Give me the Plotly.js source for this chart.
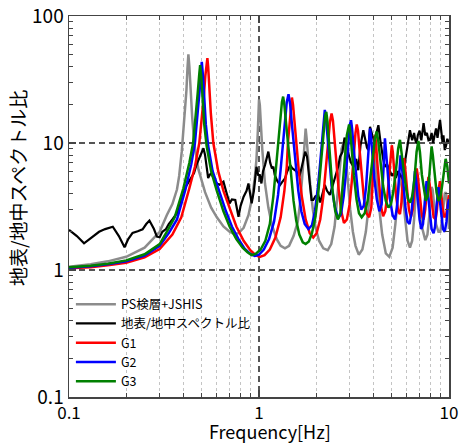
<!DOCTYPE html>
<html>
<head>
<meta charset="utf-8">
<script src="https://cdn.plot.ly/plotly-3.0.1.min.js"></script>
<style>html,body{margin:0;padding:0;background:#fff;}#chart{width:459px;height:446px;}</style>
</head>
<body>
<div id="chart"></div>
<script>
// ---- Data ----
const seriesNames = ["PS検層+JSHIS", "地表/地中スペクトル比", "G1", "G2", "G3"];
const xTitle = "Frequency[Hz]";
const yTitle = "地表/地中スペクトル比";

const freqGray = [0.1,0.13,0.16,0.2,0.25,0.3,0.327,0.35,0.37,0.38,0.392,0.405,0.415,0.42,0.425,0.43,0.437,0.445,0.456,0.48,0.52,0.56,0.6,0.65,0.7,0.74,0.78,0.83,0.88,0.92,0.95,0.97,0.985,0.995,1.0,1.01,1.025,1.04,1.075,1.12,1.17,1.24,1.3,1.37,1.44,1.52,1.6,1.65,1.69,1.72,1.745,1.76,1.78,1.81,1.86,1.92,1.98,2.07,2.18,2.3,2.4,2.5,2.58,2.65,2.72,2.8,2.86,2.93,3.02,3.12,3.22,3.35,3.5,3.65,3.78,3.88,3.96,4.02,4.08,4.18,4.3,4.45,4.65,4.85,5.05,5.22,5.35,5.45,5.52,5.6,5.72,5.88,6.05,6.23,6.4,6.55,6.65,6.75,6.82,6.9,7.05,7.25,7.5,7.7,7.9,8.0,8.1,8.2,8.35,8.55,8.8,9.0,9.2,9.35,9.5,9.62,9.75,9.9,10];
const valGray  = [1.06,1.11,1.17,1.27,1.5,2.0,2.7,3.3,4.3,5.5,8.5,15,26,38,50,40,25,16,10,6.2,4.1,3.1,2.6,2.2,2.0,1.92,1.95,2.15,2.7,3.7,5.3,7.5,12,18,22,20,13,9,4.8,3.1,2.25,1.75,1.55,1.48,1.55,1.85,2.4,3.5,5.5,8.5,12,13,11,7.5,4.7,3.0,2.2,1.7,1.48,1.43,1.6,2.2,3.5,5.8,9.0,10.2,8.0,5.0,3.0,2.0,1.55,1.32,1.45,2.0,3.2,5.2,7.5,8.5,7.5,4.8,3.0,1.9,1.35,1.27,1.5,2.3,3.6,5.0,5.6,5.0,3.6,2.4,1.7,1.5,1.7,2.5,3.6,4.8,5.1,4.5,3.1,2.1,1.72,1.9,2.8,3.7,4.5,4.3,3.2,2.3,2.0,2.0,2.5,3.3,4.0,4.1,3.5,2.6,2.1];

const freqObs = [0.1,0.11,0.12,0.13,0.144,0.155,0.17,0.183,0.196,0.205,0.216,0.23,0.244,0.255,0.265,0.28,0.29,0.3,0.31,0.324,0.335,0.35,0.37,0.385,0.4,0.41,0.425,0.44,0.455,0.47,0.48,0.495,0.51,0.52,0.53,0.54,0.55,0.56,0.58,0.6,0.62,0.65,0.67,0.7,0.72,0.75,0.78,0.8,0.83,0.86,0.88,0.9,0.915,0.94,0.97,0.99,1.01,1.03,1.05,1.075,1.1,1.12,1.145,1.17,1.19,1.21,1.25,1.29,1.32,1.34,1.37,1.41,1.46,1.5,1.55,1.6,1.64,1.68,1.72,1.75,1.79,1.82,1.86,1.89,1.93,1.98,2.05,2.1,2.15,2.22,2.28,2.36,2.46,2.55,2.61,2.67,2.75,2.82,2.9,2.97,3.05,3.14,3.25,3.33,3.42,3.54,3.62,3.7,3.76,3.84,3.95,4.05,4.15,4.25,4.35,4.42,4.5,4.6,4.72,4.85,5.0,5.1,5.25,5.4,5.55,5.75,5.9,6.05,6.15,6.23,6.4,6.55,6.65,6.75,6.85,7.0,7.15,7.25,7.35,7.5,7.65,7.8,7.94,8.1,8.25,8.4,8.55,8.7,8.85,8.97,9.1,9.25,9.35,9.5,9.65,9.8,10];
const valObs  = [2.07,1.85,1.62,1.78,2.0,2.1,2.19,1.85,1.51,1.75,1.96,2.02,2.09,2.3,2.45,2.1,1.83,1.81,2.0,2.1,2.3,2.5,2.8,3.3,4.0,4.5,4.9,5.4,5.8,6.8,7.35,8.2,9.1,8.05,6.5,5.3,5.6,5.77,5.2,4.8,4.7,4.96,4.2,3.35,3.6,3.56,2.63,3.2,3.78,4.2,4.8,4.0,3.35,4.2,6.5,5.6,5.6,4.8,6.0,6.7,7.5,8.55,7.0,6.3,6.5,5.6,5.0,4.67,4.9,5.1,5.27,6.0,6.7,6.3,6.1,5.8,5.6,6.5,7.5,8.55,7.8,5.95,4.5,3.56,3.56,3.8,3.9,3.4,3.9,4.67,4.2,3.9,4.8,5.8,6.5,7.8,8.5,11,9.9,8.0,7.0,6.5,7.5,6.1,9.5,12.6,10.5,9.2,8.8,13.4,11.5,10.2,12,13.8,10.5,8.8,7.5,6.5,6.8,6.2,5.5,5.77,5.3,6.0,5.6,5.1,7.5,9.5,11,12.6,10.5,12,10.5,9.9,11.5,12.5,10.5,12.5,14.3,11.5,12,10.5,10.6,12,10,11.5,13,11,13.5,15.2,12.5,10,11.5,8.8,9.5,10.8,9.9];

const freqG1 = [0.1,0.13,0.16,0.2,0.25,0.3,0.35,0.39,0.43,0.46,0.485,0.5,0.512,0.522,0.53,0.535,0.54,0.548,0.558,0.575,0.61,0.65,0.71,0.76,0.83,0.9,0.96,1.01,1.07,1.14,1.22,1.3,1.36,1.4,1.42,1.45,1.47,1.49,1.51,1.54,1.57,1.62,1.68,1.76,1.85,1.93,2.01,2.1,2.18,2.25,2.31,2.36,2.41,2.45,2.5,2.56,2.63,2.71,2.8,2.9,3.0,3.08,3.15,3.22,3.27,3.32,3.39,3.47,3.57,3.68,3.8,3.9,3.98,4.03,4.08,4.13,4.2,4.3,4.4,4.5,4.62,4.75,4.86,4.95,5.0,5.06,5.15,5.27,5.4,5.52,5.62,5.7,5.75,5.8,5.87,6.0,6.15,6.3,6.45,6.6,6.7,6.76,6.84,7.0,7.2,7.35,7.5,7.65,7.75,7.8,7.9,8.1,8.3,8.5,8.65,8.8,8.9,8.96,9.05,9.25,9.45,9.65,9.85,10];
const valG1  = [1.03,1.05,1.09,1.14,1.26,1.46,1.9,2.6,4.4,6.5,10,15,23,34,43,46.6,40,27,17,10,6,4.2,2.9,2.2,1.7,1.43,1.31,1.27,1.31,1.45,1.8,2.6,4.2,6.5,10,15,20,22.8,20,14,9.5,6,3.8,2.5,1.95,1.8,1.95,2.5,3.8,6,10,14.5,17.1,15,10.5,6.5,4.2,2.9,2.35,2.5,3.3,5,8,12,14,12.5,8.5,5.5,3.6,2.8,2.6,3.1,5,8,11.6,10,6.8,4.3,3.1,2.65,2.9,4,6.3,9,9.6,8.5,5.8,3.8,2.9,2.75,3.4,5.2,7.0,7.6,6.5,4.3,3.0,2.6,3.0,4.5,6,6.3,5.6,3.8,2.7,2.5,3.0,4.3,5.3,5.4,4.8,3.3,2.6,2.5,3.0,4.2,5.0,5.0,4.4,3.1,2.6,2.7,3.3,3.9];

const freqG2 = [0.1,0.13,0.16,0.2,0.25,0.3,0.335,0.37,0.41,0.44,0.46,0.475,0.487,0.495,0.5,0.507,0.515,0.525,0.54,0.57,0.62,0.67,0.72,0.78,0.84,0.9,0.95,1.0,1.06,1.13,1.2,1.26,1.3,1.34,1.37,1.4,1.43,1.46,1.49,1.52,1.56,1.61,1.67,1.74,1.82,1.9,1.97,2.04,2.1,2.15,2.19,2.22,2.25,2.29,2.34,2.41,2.5,2.61,2.7,2.79,2.88,2.96,3.01,3.05,3.09,3.15,3.23,3.33,3.45,3.56,3.66,3.75,3.8,3.84,3.88,3.95,4.05,4.17,4.3,4.42,4.5,4.56,4.6,4.65,4.75,4.88,5.05,5.2,5.32,5.42,5.5,5.56,5.63,5.75,5.9,6.05,6.2,6.35,6.47,6.55,6.62,6.7,6.85,7.0,7.15,7.3,7.45,7.55,7.62,7.72,7.9,8.1,8.3,8.45,8.6,8.72,8.8,8.9,9.1,9.3,9.5,9.7,9.85,10];
const valG2  = [1.04,1.07,1.11,1.17,1.3,1.55,1.95,2.5,4.3,6.8,10,16,26,37,43.6,34,22,14,9.5,6.0,4.1,2.9,2.2,1.75,1.47,1.34,1.29,1.32,1.45,1.75,2.4,3.9,6.2,10,15,21,24.2,20,14,10,6.5,4.2,2.9,2.3,2.1,2.25,2.9,4.4,7,11,15.5,18.2,16,11.5,7.5,4.6,3.2,2.55,2.75,3.8,6.2,10.5,14,15.1,13,9,5.8,3.8,3.0,3.2,4.5,7.5,10.5,13.0,11.5,8,5.2,3.6,2.9,3.3,5,8,10.9,9,5.8,3.7,2.7,2.5,3.1,4.8,7,8.0,7,4.6,3.1,2.4,2.3,2.8,4.2,5.5,6.0,5.2,3.5,2.5,2.1,2.3,3.4,4.7,5,4.2,2.9,2.1,1.95,2.2,3.2,4.3,4.5,3.8,2.7,2.1,2.0,2.4,3.2,3.6];

const freqG3 = [0.1,0.13,0.16,0.2,0.25,0.3,0.327,0.36,0.4,0.43,0.45,0.465,0.475,0.485,0.49,0.497,0.505,0.515,0.53,0.56,0.6,0.65,0.7,0.76,0.82,0.87,0.915,0.96,1.02,1.08,1.14,1.19,1.23,1.26,1.29,1.32,1.34,1.36,1.39,1.43,1.47,1.52,1.57,1.63,1.7,1.76,1.83,1.9,1.98,2.05,2.12,2.18,2.23,2.26,2.29,2.33,2.38,2.44,2.52,2.6,2.68,2.75,2.83,2.9,2.95,2.98,3.02,3.08,3.16,3.26,3.36,3.47,3.6,3.73,3.86,3.98,4.08,4.16,4.24,4.35,4.5,4.65,4.8,4.95,5.1,5.25,5.4,5.52,5.64,5.8,5.97,6.1,6.25,6.4,6.58,6.75,6.9,7.03,7.2,7.38,7.55,7.72,7.88,8.0,8.1,8.22,8.4,8.6,8.8,9.0,9.2,9.4,9.6,9.8,10];
const valG3  = [1.05,1.08,1.12,1.19,1.33,1.6,2.0,2.6,4.4,7.0,10,16,24,35,41,33,22,14,9.5,6.0,4.2,2.9,2.2,1.75,1.5,1.38,1.31,1.34,1.45,1.7,2.3,3.8,6.5,10,15,21,23.2,20,14,9.5,6,3.5,2.45,1.9,1.65,1.6,1.68,1.95,2.6,4,7,11.5,16.5,17.6,15,10.5,6.5,4.2,2.9,2.5,2.8,4.2,7.5,11.5,13.8,14.0,12.5,8.5,5.5,3.6,2.8,2.6,2.8,3.5,5.2,8,11,12.3,10.5,7,4.6,3.5,3.1,3.3,4.2,6,9,10.6,8.5,5.8,4.2,3.6,3.4,3.8,5.2,8.5,10.4,8.5,5.6,4.2,3.5,3.8,5.5,8,9.4,8,5.5,4.1,3.5,3.7,4.6,6.2,7.5,6.5,4.8];

const colors = ["#8c8c8c", "#000000", "#ff0000", "#0000ff", "#008000"];
const xTickVals = [0.1, 1, 10];
const xTickText = ["0.1", "1", "10"];
const yTickVals = [0.1, 1, 10, 100];
const yTickText = ["0.1", "1", "10", "100"];
const minorX = [0.2,0.3,0.4,0.5,0.6,0.7,0.8,0.9,2,3,4,5,6,7,8,9];
const minorY = [0.2,0.3,0.4,0.5,0.6,0.7,0.8,0.9,2,3,4,5,6,7,8,9,20,30,40,50,60,70,80,90];

const xs = [freqGray, freqObs, freqG1, freqG2, freqG3];
const ys = [valGray, valObs, valG1, valG2, valG3];
const widths = [2.5, 2.2, 2.5, 2.5, 2.5];

const traces = seriesNames.map((n, i) => ({
  x: xs[i], y: ys[i], name: n, type: "scatter", mode: "lines",
  line: {color: colors[i], width: widths[i]}
}));

const font = "Noto Sans CJK JP, Noto Sans, sans-serif";
const layout = {
  width: 459, height: 446,
  margin: {l: 69, r: 10, t: 16, b: 49},
  paper_bgcolor: "#fff", plot_bgcolor: "#fff",
  font: {family: font, color: "#000", size: 18},
  showlegend: true,
  legend: {x: 0.005, y: 0.282, xanchor: "left", yanchor: "top", bgcolor: "rgba(0,0,0,0)",
           font: {family: font, size: 12.5, color: "#000"}, itemwidth: 40, tracegroupgap: 0},
  xaxis: {
    type: "log", range: [-1, 1], tickvals: xTickVals, ticktext: xTickText,
    ticks: "inside", ticklen: 7, tickcolor: "#444", tickwidth: 1.2,
    showline: true, linecolor: "#444", linewidth: 1.5, mirror: "allticks",
    showgrid: true, gridcolor: "#555", gridwidth: 1.5, griddash: "6px,4px",
    minor: {tickvals: minorX, ticks: "inside", ticklen: 4, tickcolor: "#444",
            showgrid: true, gridcolor: "#c4c4c4", gridwidth: 1, griddash: "dot"},
    tickfont: {family: font, size: 17}
  },
  yaxis: {
    type: "log", range: [-1, 2], tickvals: yTickVals, ticktext: yTickText,
    ticks: "inside", ticklen: 7, tickcolor: "#444", tickwidth: 1.2,
    showline: true, linecolor: "#444", linewidth: 1.5, mirror: "allticks",
    showgrid: true, gridcolor: "#555", gridwidth: 1.5, griddash: "6px,4px",
    minor: {tickvals: minorY, ticks: "inside", ticklen: 4, tickcolor: "#444", showgrid: false},
    tickfont: {family: font, size: 19}
  },
  annotations: [
    {text: xTitle, xref: "paper", yref: "paper", x: 0.529, y: -0.088, xanchor: "center", yanchor: "middle",
     showarrow: false, font: {family: font, size: 18, color: "#000"}},
    {text: yTitle, xref: "paper", yref: "paper", x: -0.134, y: 0.549, xanchor: "center", yanchor: "middle",
     textangle: -90, showarrow: false, font: {family: font, size: 19, color: "#000"}}
  ]
};

Plotly.newPlot("chart", traces, layout, {displayModeBar: false, staticPlot: true});
</script>
</body>
</html>
